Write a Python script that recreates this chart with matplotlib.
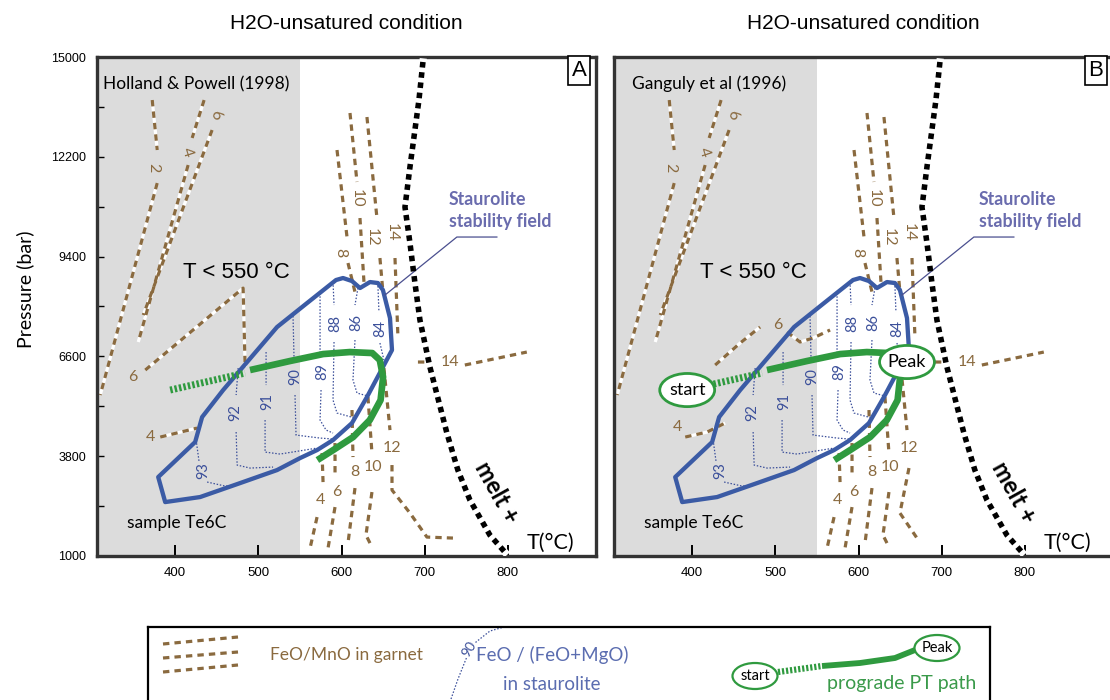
import matplotlib
matplotlib.use("Agg")
import matplotlib.pyplot as plt
from matplotlib.patches import Ellipse, Polygon
import numpy as np

nan = np.nan

# ---- axes ----------------------------------------------------------------
T_LIM = (306, 906)
P_LIM = (1000, 15000)
T_TICKS = [400, 500, 600, 700, 800]
P_TICKS = [1000, 3800, 6600, 9400, 12200, 15000]
P_MINOR = [2400, 5200, 8000, 10800, 13600]
T_LOW = 550  # shaded T < 550 °C zone

TITLES = ["H2O-unsatured condition", "H2O-unsatured condition"]
SOURCES = ["Holland & Powell (1998)", "Ganguly et al (1996)"]
PANEL_TAGS = ["A", "B"]

# ---- staurolite stability field, sample Te6C (T °C, P bar) ---------------
field_T = [379.6, 388.0, 430.0, 478.1, 522.5, 550.2, 570.6, 589.8, 612.6, 630.6,
           649.8, 660.7, 658.3, 649.8, 643.8, 634.2, 622.2, 612.6, 601.8, 593.4,
           558.6, 522.5, 486.5, 457.7, 432.4, 424.0]
field_P = [3215, 2513, 2654, 3046, 3411, 3748, 3972, 4253, 4730, 5460,
           6301, 6778, 7676, 8462, 8658, 8686, 8518, 8714, 8799, 8743,
           8097, 7424, 6442, 5656, 4898, 4197]

# ---- FeO/(FeO+MgO) in staurolite, dotted isopleths ------------------------
stau_levels = ["93", "92", "91", "90", "89", "88", "86", "84"]
stau_T = [[425.2, 428.8, nan, 438.4, 460.1, 473.3],
          [475.7, 473.3, nan, 473.3, 474.5, 490.1, 517.7],
          [509.3, 509.3, nan, 508.1, 508.1, 526.1, 570.6],
          [541.7, 542.9, nan, 544.1, 545.3, 574.2, 589.8],
          [574.2, 574.2, nan, 575.4, 574.2, 581.4, 589.8],
          [589.8, 591.0, nan, 591.0, 589.8, 594.6, 616.2],
          [619.8, 616.2, nan, 616.2, 613.8, 618.6, 631.8],
          [643.8, 645.0, nan, 646.2, 651.0]]
stau_P = [[4253, 3636, nan, 3075, 2962, 2990],
          [6273, 5516, nan, 4478, 3551, 3467, 3495],
          [6722, 5796, nan, 4814, 3916, 3860, 4028],
          [7733, 6554, nan, 5516, 4393, 4309, 4281],
          [8378, 6638, nan, 5656, 4814, 4534, 4450],
          [8687, 8041, nan, 7003, 5375, 5011, 4870],
          [8518, 8041, nan, 7059, 5937, 5572, 5488],
          [8574, 7845, nan, 6975, 6498]]
stau_lab_T = [433.6, 472.1, 510.5, 544.1, 576.6, 592.2, 617.4, 646.2]
stau_lab_P = [3411, 5011, 5319, 6021, 6161, 7536, 7564, 7396]

# ---- FeO/MnO in garnet, dashed isopleths (same in both panels) -------------
grt_T = [[372.4, 378.4, nan, 378.4, 309.9],
         [434.8, 420.4, nan, 415.6, 355.6],
         [444.4, 361.6],
         [594.6, 606.6, nan, 607.8, 616.2, nan, 612.6, 613.8, nan, 616.2, 607.8],
         [610.2, 618.6, nan, 622.2, 627.0, nan, 631.8, 636.6, nan, 636.6, 629.4, 636.6],
         [630.6, 642.6, nan, 646.2, 649.8, nan, 651.0, 658.3],
         [664.3, 667.9, nan, 691.9, 703.9, nan, 748.3, 822.8],
         [576.6, 577.8, nan, 570.6, 562.2],
         [592.2, 592.2, nan, 592.2, 583.8]]
grt_P = [[13793, 12390, nan, 11464, 5516],
         [13793, 12727, nan, 11970, 7003],
         [12952, 7760],
         [12390, 9949, nan, 9220, 8406, nan, 5095, 3776, nan, 2906, 1363],
         [13429, 11493, nan, 10482, 8687, nan, 5460, 3888, nan, 2794, 1587, 1251],
         [13316, 10482, nan, 9360, 8406, nan, 6273, 4533],
         [9360, 7115, nan, 6442, 6442, nan, 6358, 6722],
         [3888, 3074, nan, 2092, 1222],
         [4169, 3215, nan, 2373, 1222]]
grt_labels = ["2", "4", "6", "8", "8", "10", "10", "12", "12", "14", "14", "4", "6"]
grt_lab_T = [373.6, 414.4, 448.0, 598.2, 616.2, 618.6, 637.8, 636.6, 660.7,
             660.7, 730.3, 574.2, 594.6]
grt_lab_P = [11885, 12334, 13373, 9500, 3355, 11044, 3495, 9949, 4028,
             10090, 6442, 2569, 2794]
grt_lab_rot = [-90, -72, -70, -90, 0, -90, 0, -90, 0, -90, 0, 0, 0]

# garnet isopleths that differ between the two panels
grt12_tail_A_T = [660.7, 660.7, 682.3, 702.7, 734.0]
grt12_tail_A_P = [3552, 2850, 2205, 1531, 1503]
grt12_tail_B_T = [660.7, 649.8, 670.3]
grt12_tail_B_P = [3468, 2205, 1503]
grt6_A_T = [364.0, 481.7, 484.1]
grt6_A_P = [6217, 8518, 6301]
grt6_A_lab = (349.5, 6021)
grt4_A_T = [382.0, 426.4]
grt4_A_P = [4337, 4590]
grt4_A_lab = (370.0, 4337)
grt6_B_T = [427.6, 457.7, 481.7, nan, 514.1, 529.7, 545.3, 565.8]
grt6_B_P = [6357, 6975, 7424, nan, 7284, 7003, 7115, 7340]
grt6_B_lab = (503.3, 7480)
grt4_B_T = [391.6, 418.0, 439.6]
grt4_B_P = [4337, 4478, 4730]
grt4_B_lab = (382.0, 4618)

# ---- melt-in curve -------------------------------------------------------
melt_T = [697.9, 693.1, 682.3, 676.3, 682.3, 688.3, 694.3, 706.3, 726.7,
          739.9, 754.4, 778.4, 796.4]
melt_P = [14860, 13794, 11914, 10791, 9781, 8658, 7620, 6301, 4450,
          3411, 2569, 1587, 1110]

# ---- prograde PT path ----------------------------------------------------
path_early_T = [394.0, 484.1]
path_early_P = [5656, 6133]
path_T = [490, 538, 578, 610, 637, 646, 650, 647, 634, 614, 590, 571]
path_P = [6217, 6470, 6666, 6722, 6694, 6498, 6021, 5375, 4814, 4337, 3972, 3692]
start_pt = (394.0, 5656)
peak_pt = (658.3, 6442)

# leader line to the "Staurolite stability field" note
leader_T = [786.8, 738.7, 652.3]
leader_P = [9949, 9949, 8322]

BROWN = "#8a6a3f"
BLUE = "#3b5ba5"
DOTBLUE = "#3b4f9a"
NOTEBLUE = "#6a6cae"
GREEN = "#2f9a3f"
GREY = "#dcdcdc"

plt.rcParams["font.family"] = ["Lato", "DejaVu Sans"]


def garnet(ax, T, P):
    ax.plot(T, P, color="white", lw=2.3, solid_capstyle="butt", zorder=2)
    ax.plot(T, P, color=BROWN, lw=2.3, dashes=(2.0, 1.6), zorder=2.1)


def grt_label(ax, txt, T, P, rot=0):
    ax.text(T, P, txt, color=BROWN, fontsize=11.5, rotation=rot,
            ha="center", va="center", zorder=3)


def draw_panel(ax, i):
    ax.set_xlim(*T_LIM)
    ax.set_ylim(*P_LIM)
    ax.axvspan(T_LIM[0], T_LOW, color=GREY, lw=0, zorder=0)

    for T, P in zip(grt_T, grt_P):
        garnet(ax, T, P)
    for s, T, P, r in zip(grt_labels, grt_lab_T, grt_lab_P, grt_lab_rot):
        grt_label(ax, s, T, P, r)
    if i == 0:
        garnet(ax, grt12_tail_A_T, grt12_tail_A_P)
        garnet(ax, grt6_A_T, grt6_A_P)
        garnet(ax, grt4_A_T, grt4_A_P)
        grt_label(ax, "6", *grt6_A_lab)
        grt_label(ax, "4", *grt4_A_lab)
    else:
        garnet(ax, grt12_tail_B_T, grt12_tail_B_P)
        garnet(ax, grt6_B_T, grt6_B_P)
        garnet(ax, grt4_B_T, grt4_B_P)
        grt_label(ax, "6", *grt6_B_lab)
        grt_label(ax, "4", *grt4_B_lab)

    # staurolite isopleths
    for lev, T, P, lt, lp in zip(stau_levels, stau_T, stau_P, stau_lab_T, stau_lab_P):
        ax.plot(T, P, color=DOTBLUE, lw=0.9, dashes=(1.2, 1.4), zorder=3)
        ax.text(lt, lp, lev, color=DOTBLUE, fontsize=10.5, rotation=90,
                ha="center", va="center", zorder=3)

    # stability field outline
    ax.add_patch(Polygon(np.column_stack([field_T, field_P]), closed=True,
                         fill=False, ec=BLUE, lw=3.1, joinstyle="round", zorder=4))

    # melt curve
    ax.plot(melt_T, melt_P, color="white", lw=5.2, zorder=4)
    ax.plot(melt_T, melt_P, color="black", lw=4.0, dashes=(1.0, 0.85), zorder=4.1)

    # prograde path
    ax.plot(path_early_T, path_early_P, color=GREEN, lw=5.0,
            dashes=(0.35, 0.3), zorder=5)
    ax.plot(path_T, path_P, color=GREEN, lw=4.8, solid_capstyle="butt",
            solid_joinstyle="round", zorder=5)
    if i == 1:
        for (t, p), lab in ((start_pt, "start"), (peak_pt, "Peak")):
            ax.add_patch(Ellipse((t, p), 66, 930, fc="white", ec=GREEN, lw=2,
                                 zorder=6))
            ax.text(t, p, lab, fontsize=13, ha="center", va="center", zorder=7)

    # annotations
    ax.plot(leader_T, leader_P, color="#4a4f8f", lw=0.9, zorder=4)
    note_T = 729.1 if i == 0 else 745.0
    ax.text(note_T, 11230, "Staurolite\nstability field", color=NOTEBLUE,
            fontsize=12.8, fontweight="bold", ha="left", va="top",
            linespacing=1.3, zorder=6)
    ax.text(409.6, 8967, "T < 550 °C", fontsize=16, family="Liberation Sans",
            ha="left", va="center", zorder=6)
    src_T = 313.5 if i == 0 else 327.9
    ax.text(src_T, 14242, SOURCES[i], fontsize=12.5, ha="left", va="center", zorder=6)
    ax.text(342.3, 1924, "sample Te6C", fontsize=12.5, ha="left", va="center", zorder=6)
    ax.text(822.8, 1363, "T(°C)", fontsize=15.5, ha="left", va="center", zorder=6)
    ax.text(786.8, 2794, "melt +", fontsize=17, fontweight="bold", rotation=-61,
            ha="center", va="center", zorder=6)
    ax.text(0.966, 0.972, PANEL_TAGS[i], transform=ax.transAxes, fontsize=16,
            family="Liberation Sans", ha="center", va="center", zorder=8,
            bbox=dict(boxstyle="square,pad=0.18", fc="white", ec="black", lw=1.2))

    ax.set_xticks(T_TICKS)
    ax.set_xticklabels([str(t) for t in T_TICKS], family="Liberation Sans", fontsize=9.5)
    ax.tick_params(axis="x", direction="in", length=8, width=1.4, pad=8)
    if i == 0:
        ax.set_yticks(P_TICKS)
        ax.set_yticklabels([str(p) for p in P_TICKS], family="Liberation Sans",
                           fontsize=9)
        ax.set_yticks(P_MINOR, minor=True)
        ax.tick_params(axis="y", which="both", direction="in", length=5, width=1, pad=8)
    else:
        ax.set_yticks([])
    for sp in ax.spines.values():
        sp.set_linewidth(2.4)
        sp.set_color("#333333")
    ax.set_title(TITLES[i], family="Liberation Sans", fontsize=15, pad=20)


fig = plt.figure(figsize=(11.1, 7), dpi=100)
axA = fig.add_axes([97 / 1110, 1 - 556 / 700, 499 / 1110, 499 / 700])
axB = fig.add_axes([614 / 1110, 1 - 556 / 700, 499 / 1110, 499 / 700])
draw_panel(axA, 0)
draw_panel(axB, 1)
fig.text(25 / 1110, 1 - 289 / 700, "Pressure (bar)", rotation=90, fontsize=14,
         ha="center", va="center")

# ---- legend box (layout in pixels from its top-left corner) --------------
lg = fig.add_axes([148 / 1110, -0.02, 842 / 1110, 1 - 627 / 700 + 0.02])
lg.set_xlim(0, 842)
lg.set_ylim(87, 0)
lg.set_xticks([])
lg.set_yticks([])
for sp in lg.spines.values():
    sp.set_linewidth(1.6)
for y0, y1 in ((17, 10), (31, 25), (45, 38)):
    garnet(lg, [15, 90], [y0, y1])
lg.text(122, 28, "FeO/MnO in garnet", color=BROWN, fontsize=12.5, va="center")
lg.plot([303, 310, 318, 328, 342, 356], [72, 52, 32, 15, 4, 0], color=DOTBLUE,
        lw=0.9, dashes=(1.2, 1.4))
lg.text(321, 22, "90", color=DOTBLUE, fontsize=10, rotation=58, ha="center",
        va="center", bbox=dict(fc="white", ec="none", pad=0.3))
lg.text(404, 28, "FeO / (FeO+MgO)", color="#5b6db0", fontsize=13.5,
        ha="center", va="center")
lg.text(404, 57, "in staurolite", color="#5b6db0", fontsize=13.5,
        ha="center", va="center")
lg.plot([630, 674], [45, 39], color=GREEN, lw=4.5, dashes=(0.35, 0.3))
lg.plot([674, 712, 747, 767], [39, 36, 31, 23], color=GREEN, lw=4.2,
        solid_capstyle="butt")
for (cx, cy), lab in (((607, 49), "start"), ((789, 21), "Peak")):
    lg.add_patch(Ellipse((cx, cy), 45, 26, fc="white", ec=GREEN, lw=1.6, zorder=5))
    lg.text(cx, cy, lab, fontsize=10.5, ha="center", va="center", zorder=6)
lg.text(754, 57, "prograde PT path", color="#3a9a4a", fontsize=14,
        ha="center", va="center")

fig.savefig("out.png", dpi=100)
